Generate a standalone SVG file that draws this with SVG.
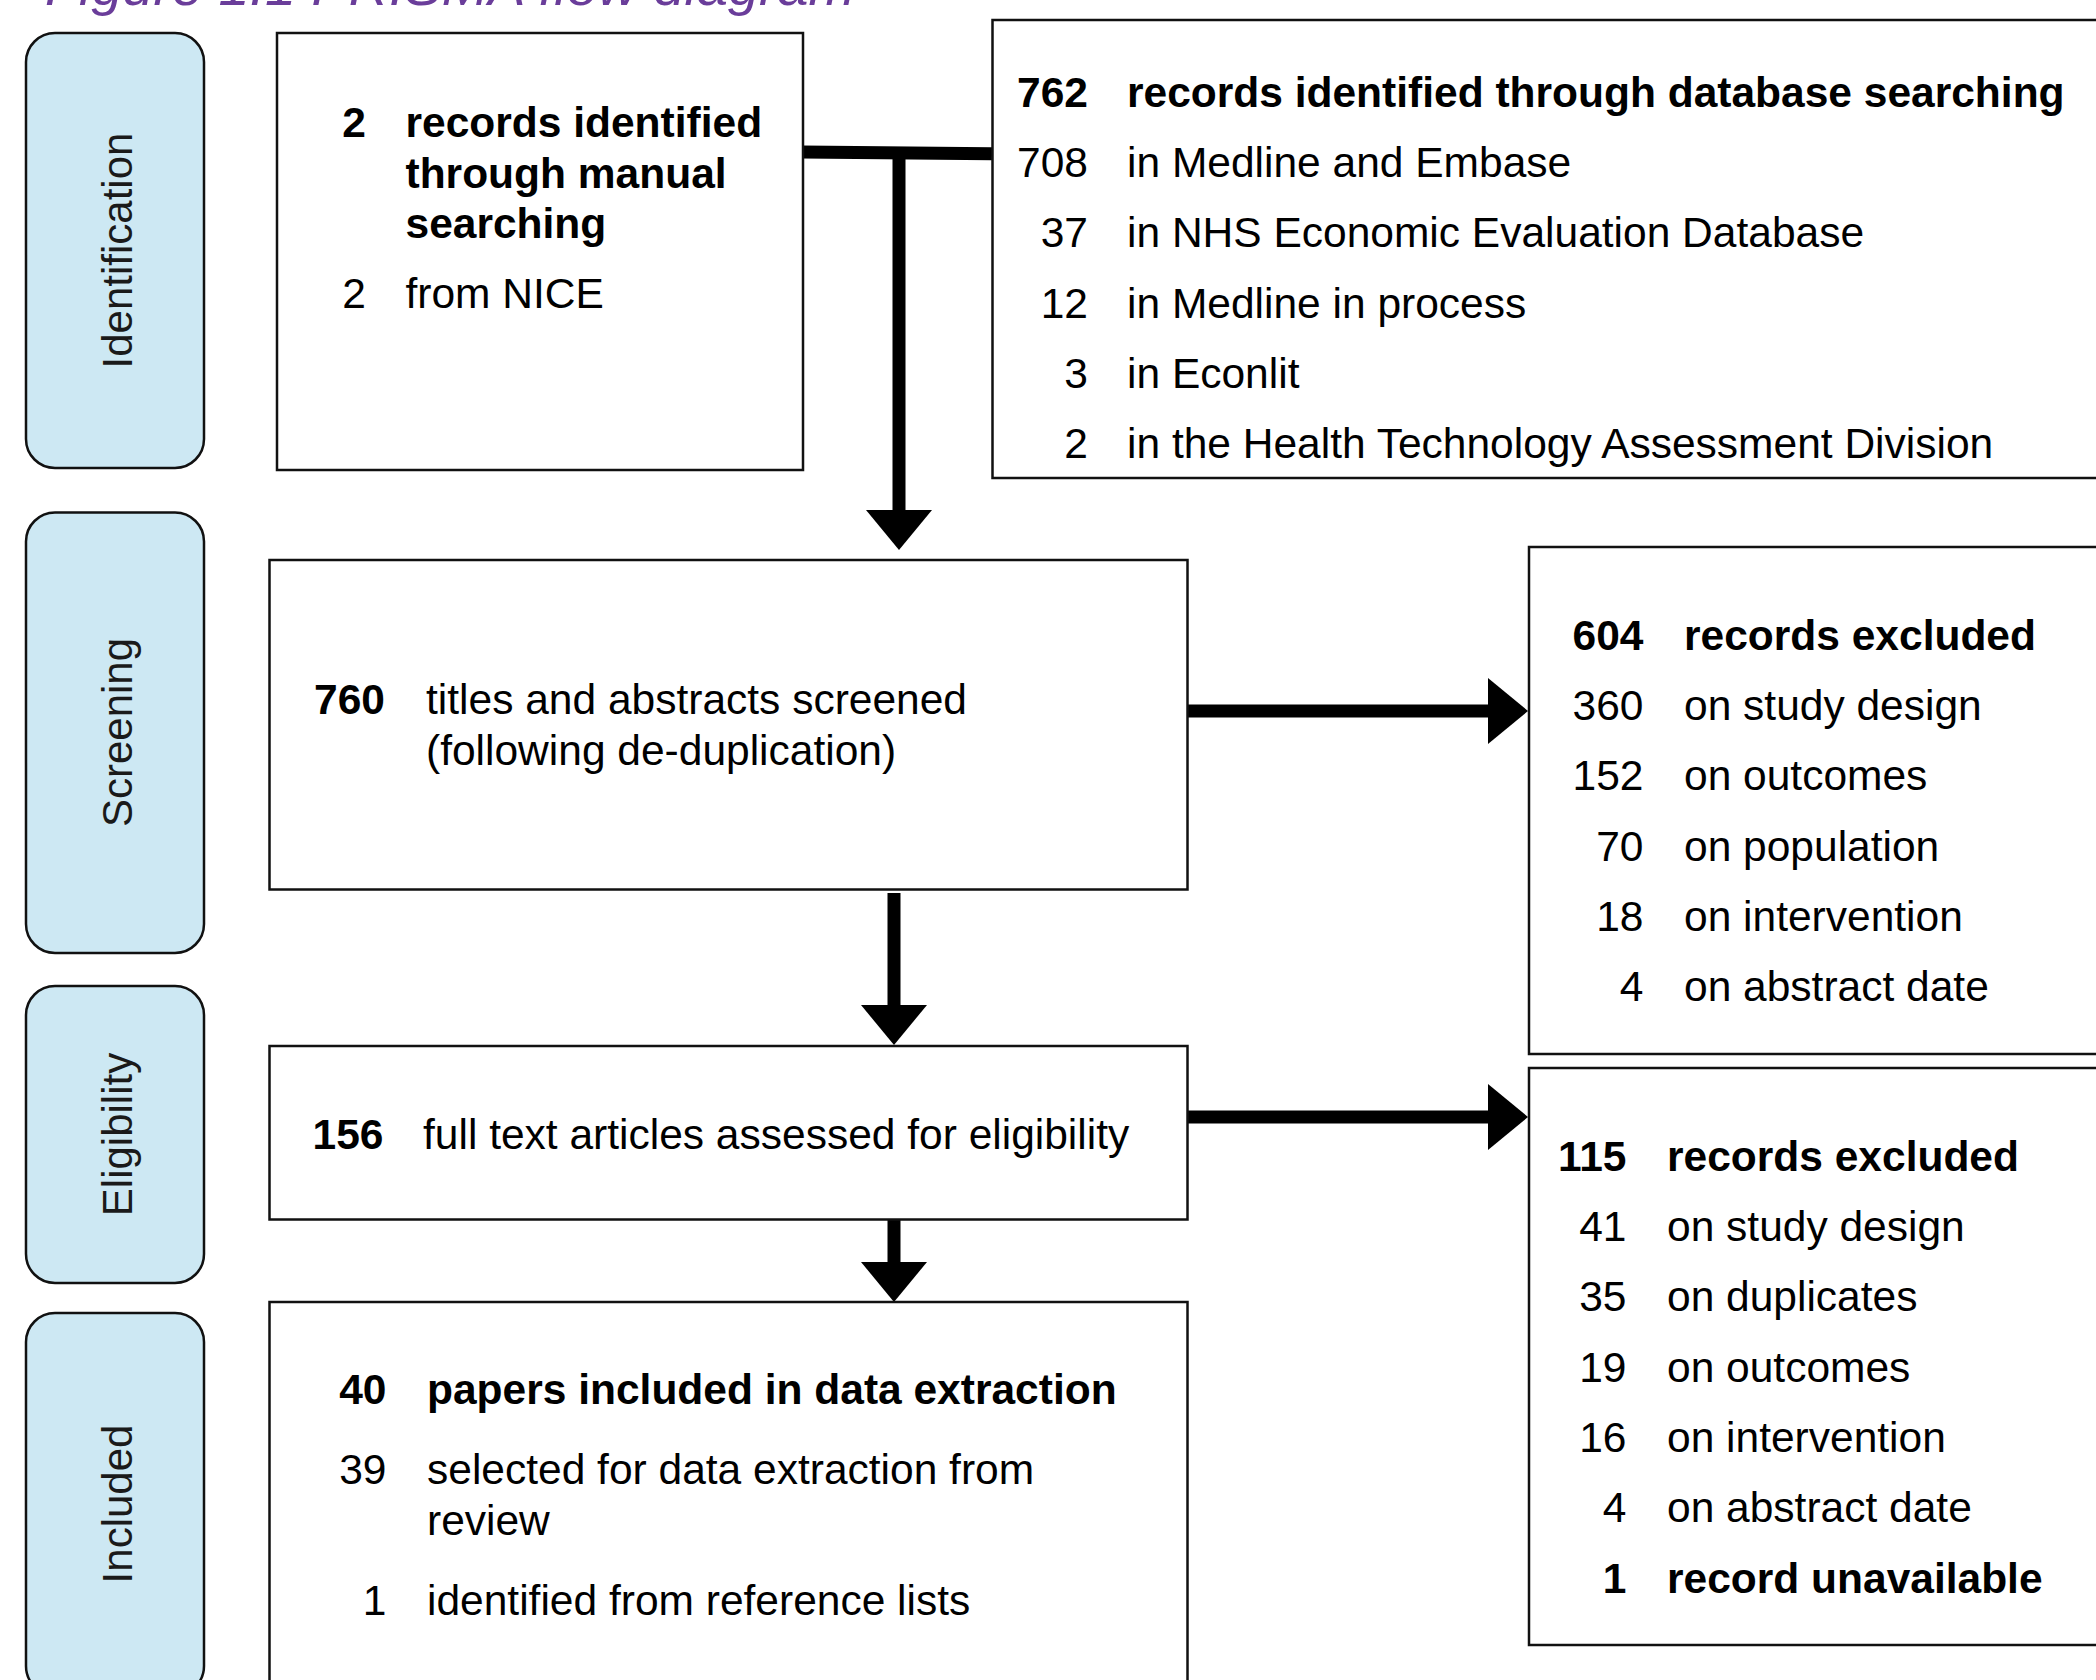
<svg xmlns="http://www.w3.org/2000/svg" width="2096" height="1680" viewBox="0 0 2096 1680">
<defs>
<style>
.pill{fill:#cde8f3;stroke:#111;stroke-width:2.5}
.box{fill:#fff;stroke:#111;stroke-width:2.5}
.t{font-family:"Liberation Sans",Arial,Helvetica,sans-serif;font-size:42.5px;fill:#000}
.b{font-weight:bold}
.n{text-anchor:end}
.lab{font-family:"Liberation Sans",Arial,Helvetica,sans-serif;font-size:42px;fill:#1a1a1a;text-anchor:middle}
.conn{stroke:#000;stroke-width:13;fill:none}
.title{font-family:"Liberation Sans",Arial,sans-serif;font-style:italic;font-size:54px;fill:#6a3d9a}
</style>
<marker id="ah" markerUnits="userSpaceOnUse" markerWidth="42" markerHeight="68" viewBox="0 -34 42 68" refX="1" refY="0" orient="auto">
<path d="M0,-33 L40,0 L0,33 z" fill="#000"/>
</marker>
</defs>
<rect width="2096" height="1680" fill="#fff"/>
<text class="title" x="45" y="5" textLength="810" lengthAdjust="spacingAndGlyphs">Figure 1.1 PRISMA flow diagram</text>

<g id="stage-identification">
<rect class="pill" x="26" y="33" width="178" height="435" rx="29" ry="29"/>
<text class="lab" transform="translate(131.5,250.5) rotate(-90)">Identification</text>
</g>
<g id="stage-screening">
<rect class="pill" x="26" y="512.5" width="178" height="440.5" rx="29" ry="29"/>
<text class="lab" transform="translate(131.5,732.5) rotate(-90)">Screening</text>
</g>
<g id="stage-eligibility">
<rect class="pill" x="26" y="986" width="178" height="297" rx="29" ry="29"/>
<text class="lab" transform="translate(131.5,1134.5) rotate(-90)">Eligibility</text>
</g>
<g id="stage-included">
<rect class="pill" x="26" y="1313" width="178" height="382" rx="29" ry="29"/>
<text class="lab" transform="translate(131.5,1504) rotate(-90)">Included</text>
</g>

<g id="connectors">
<path class="conn" d="M802,152 L992,153.7"/>
<path class="conn" d="M899,152 V511" marker-end="url(#ah)"/>
<path class="conn" d="M894,893 V1006" marker-end="url(#ah)"/>
<path class="conn" d="M894,1219 V1263" marker-end="url(#ah)"/>
<path class="conn" d="M1187,711 H1489" marker-end="url(#ah)"/>
<path class="conn" d="M1187,1117 H1489" marker-end="url(#ah)"/>
</g>

<g id="manual-search">
<rect class="box" x="277" y="33" width="526" height="437"/>
<text class="t b n" x="366" y="137">2</text>
<text class="t b" x="405.5" y="137">records identified</text>
<text class="t b" x="405.5" y="187.5">through manual</text>
<text class="t b" x="405.5" y="238">searching</text>
<text class="t n" x="366" y="308">2</text>
<text class="t" x="405.5" y="308">from NICE</text>
</g>

<g id="database-search">
<rect class="box" x="992.5" y="20" width="1130" height="458"/>
<text class="t b n" x="1088" y="106.5">762</text>
<text class="t b" x="1127" y="106.5">records identified through database searching</text>
<text class="t n" x="1088" y="177">708</text>
<text class="t" x="1127" y="177">in Medline and Embase</text>
<text class="t n" x="1088" y="247">37</text>
<text class="t" x="1127" y="247">in NHS Economic Evaluation Database</text>
<text class="t n" x="1088" y="317.5">12</text>
<text class="t" x="1127" y="317.5">in Medline in process</text>
<text class="t n" x="1088" y="387.5">3</text>
<text class="t" x="1127" y="387.5">in Econlit</text>
<text class="t n" x="1088" y="457.5">2</text>
<text class="t" x="1127" y="457.5">in the Health Technology Assessment Division</text>
</g>

<g id="screened">
<rect class="box" x="269.5" y="560" width="918" height="329.5"/>
<text class="t b n" x="385" y="714">760</text>
<text class="t" x="426" y="714">titles and abstracts screened</text>
<text class="t" x="426" y="765">(following de-duplication)</text>
</g>

<g id="excluded-screening">
<rect class="box" x="1529" y="547" width="600" height="507"/>
<text class="t b n" x="1643.5" y="649.5">604</text>
<text class="t b" x="1684" y="649.5">records excluded</text>
<text class="t n" x="1643.5" y="720">360</text>
<text class="t" x="1684" y="720">on study design</text>
<text class="t n" x="1643.5" y="790">152</text>
<text class="t" x="1684" y="790">on outcomes</text>
<text class="t n" x="1643.5" y="860.5">70</text>
<text class="t" x="1684" y="860.5">on population</text>
<text class="t n" x="1643.5" y="931">18</text>
<text class="t" x="1684" y="931">on intervention</text>
<text class="t n" x="1643.5" y="1001">4</text>
<text class="t" x="1684" y="1001">on abstract date</text>
</g>

<g id="eligibility">
<rect class="box" x="269.5" y="1046" width="918" height="173.5"/>
<text class="t b n" x="383.5" y="1148.5">156</text>
<text class="t" x="423" y="1148.5">full text articles assessed for eligibility</text>
</g>

<g id="excluded-eligibility">
<rect class="box" x="1529" y="1068" width="600" height="577"/>
<text class="t b n" x="1626.5" y="1170.5">115</text>
<text class="t b" x="1667" y="1170.5">records excluded</text>
<text class="t n" x="1626.5" y="1241">41</text>
<text class="t" x="1667" y="1241">on study design</text>
<text class="t n" x="1626.5" y="1311">35</text>
<text class="t" x="1667" y="1311">on duplicates</text>
<text class="t n" x="1626.5" y="1381.5">19</text>
<text class="t" x="1667" y="1381.5">on outcomes</text>
<text class="t n" x="1626.5" y="1452">16</text>
<text class="t" x="1667" y="1452">on intervention</text>
<text class="t n" x="1626.5" y="1522">4</text>
<text class="t" x="1667" y="1522">on abstract date</text>
<text class="t b n" x="1626.5" y="1592.5">1</text>
<text class="t b" x="1667" y="1592.5">record unavailable</text>
</g>

<g id="included">
<rect class="box" x="269.5" y="1302" width="918" height="420"/>
<text class="t b n" x="386.5" y="1403.5">40</text>
<text class="t b" x="427" y="1403.5">papers included in data extraction</text>
<text class="t n" x="386.5" y="1484">39</text>
<text class="t" x="427" y="1484">selected for data extraction from</text>
<text class="t" x="427" y="1534.5">review</text>
<text class="t n" x="386.5" y="1614.5">1</text>
<text class="t" x="427" y="1614.5">identified from reference lists</text>
</g>
</svg>
